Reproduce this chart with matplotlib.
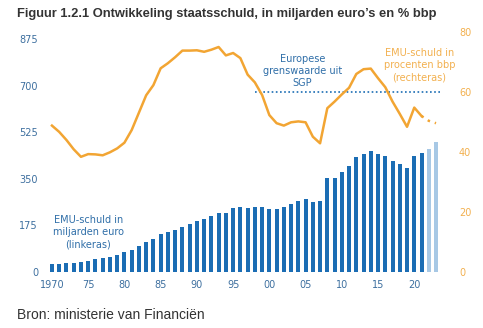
import matplotlib
matplotlib.use("Agg")
import matplotlib.pyplot as plt

# Data
years = list(range(1970, 2024))
debt_bn = [29, 30, 32, 35, 37, 41, 48, 52, 57, 64,
           75, 84, 96, 113, 125, 141, 149, 157, 169, 179,
           190, 199, 210, 220, 221, 239, 244, 240, 245, 244,
           235, 238, 243, 254, 265, 273, 262, 265, 352, 352,
           377, 399, 431, 444, 454, 444, 437, 418, 404, 392,
           434, 447, 462, 490]
n_forecast = 2  # 2022 and 2023 shown lighter

line_years = list(range(1970, 2022))
debt_pct = [48.8, 46.7, 44.0, 40.9, 38.4, 39.3, 39.2, 38.9, 39.9, 41.2,
            43.1, 47.3, 53.1, 58.9, 62.3, 67.9, 69.6, 71.6, 73.8, 73.8,
            73.9, 73.4, 74.1, 75.0, 72.2, 73.0, 71.3, 65.8, 63.2, 59.0,
            52.3, 49.6, 48.8, 49.9, 50.2, 49.9, 45.1, 42.9, 54.6, 56.8,
            59.2, 61.4, 66.0, 67.6, 67.8, 64.6, 61.6, 56.8, 52.7, 48.4,
            54.8, 52.0]
fc_years = [2021, 2022, 2023]
fc_pct = [52.0, 50.4, 49.6]

sgp_years = [1998, 2023.7]
sgp_limit = 60

left_ticks = [0, 175, 350, 525, 700, 875]
right_ticks = [0, 20, 40, 60, 80]
x_ticks = [1970, 1975, 1980, 1985, 1990, 1995, 2000, 2005, 2010, 2015, 2020]
x_labels = ["1970", "75", "80", "85", "90", "95", "00", "05", "10", "15", "20"]

BLUE = "#1b6db4"
LIGHT = "#a7c8e5"
ORANGE = "#f2a533"
TICK_BLUE = "#3d6f9f"
TICK_ORANGE = "#f2b04f"

fig = plt.figure(figsize=(4.83, 3.28), dpi=100)
ax = fig.add_axes([45/483, 1-272/328, 400/483, 242/328])
ax2 = ax.twinx()

colors = [BLUE]*(len(years)-n_forecast) + [LIGHT]*n_forecast
ax.bar(years, debt_bn, width=0.55, color=colors, zorder=2)

ax2.plot(line_years, debt_pct, color=ORANGE, lw=1.8, solid_joinstyle="round", zorder=3)
ax2.plot(fc_years, fc_pct, color=ORANGE, lw=1.8, ls=(0, (1, 2)), zorder=3)
ax2.plot(sgp_years, [sgp_limit, sgp_limit], color=BLUE, lw=1.2, ls=(0, (1, 1.5)), zorder=1)

ax.set_xlim(1969.04, 2024.24)
ax.set_ylim(0, 875*242/233)
ax2.set_ylim(0, 80*242/240)

ax.set_yticks(left_ticks)
ax.set_xticks(x_ticks)
ax.set_xticklabels(x_labels)
ax2.set_yticks(right_ticks)

for a in (ax, ax2):
    for s in a.spines.values():
        s.set_visible(False)
ax.tick_params(axis="y", length=0, pad=5, labelsize=7, labelcolor=TICK_BLUE)
ax.tick_params(axis="x", length=0, pad=6, labelsize=7, labelcolor=TICK_BLUE)
ax2.tick_params(axis="y", length=0, pad=10, labelsize=7, labelcolor=TICK_ORANGE)

ax2.text(2004.6, 67.0, "Europese\ngrenswaarde uit\nSGP", color="#2f6ea8",
         fontsize=7, ha="center", va="center", linespacing=1.3)
ax2.text(2020.7, 69.0, "EMU-schuld in\nprocenten bbp\n(rechteras)", color=TICK_ORANGE,
         fontsize=7, ha="center", va="center", linespacing=1.25)
ax.text(1975.0, 150, "EMU-schuld in\nmiljarden euro\n(linkeras)", color="#2f6ea8",
        fontsize=7, ha="center", va="center", linespacing=1.25)

fig.text(17/483, 1-14/328, "Figuur 1.2.1 Ontwikkeling staatsschuld, in miljarden euro’s en % bbp",
         fontsize=9.25, fontweight="bold", family="Liberation Sans", color="#333333",
         ha="left", va="center")
fig.text(17/483, 1-315/328, "Bron: ministerie van Financiën", fontsize=10,
         family="Liberation Sans", color="#333333", ha="left", va="center")

plt.savefig("out.png", dpi=100)
